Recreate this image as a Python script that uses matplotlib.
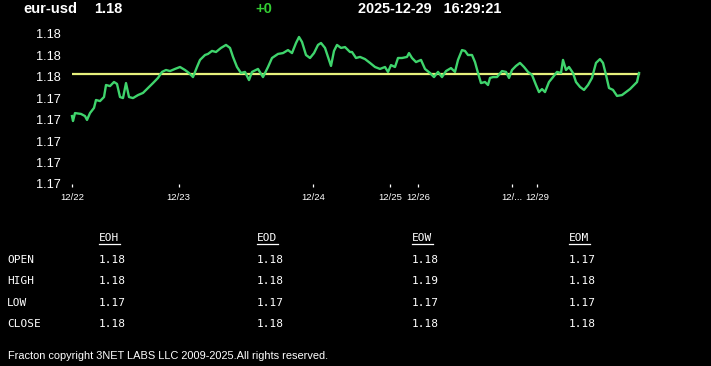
import matplotlib
matplotlib.use("Agg")
import matplotlib.pyplot as plt
from matplotlib.lines import Line2D

# ── data ────────────────────────────────────────────────────────────────────
symbol = "eur-usd"
last_price = "1.18"
change = "+0"
stamp = "2025-12-29   16:29:21"

# sample index (time order) and price
idx = [0, 1, 3, 9, 13, 15, 18, 22, 24, 28, 32, 34, 38, 42, 45, 48, 51, 54, 57,
       61, 66, 71, 76, 81, 86, 90, 94, 98, 103, 108, 113, 117, 121, 125, 128,
       133, 136, 140, 144, 149, 154, 158, 161, 165, 169, 173, 177, 180, 186,
       191, 196, 200, 206, 211, 216, 220, 224, 227, 230, 234, 238, 242, 246,
       249, 253, 256, 259, 262, 265, 269, 273, 278, 280, 284, 288, 293, 298,
       303, 308, 313, 316, 319, 323, 326, 330, 335, 337, 340, 344, 349, 353,
       358, 362, 366, 370, 374, 379, 383, 386, 390, 393, 396, 400, 403, 406,
       409, 413, 416, 418, 421, 425, 430, 434, 437, 440, 444, 448, 452, 456,
       460, 464, 467, 470, 473, 477, 481, 485, 489, 491, 494, 497, 501, 504,
       508, 512, 516, 520, 524, 528, 531, 534, 537, 541, 545, 550, 554, 558,
       562, 565, 567]
price = [1.17417, 1.17394, 1.17431, 1.17427, 1.17417, 1.17399, 1.17431,
         1.17455, 1.17492, 1.17487, 1.17506, 1.17562, 1.17557, 1.17576,
         1.17567, 1.17506, 1.17501, 1.17571, 1.17506, 1.17501, 1.17515,
         1.17525, 1.17548, 1.17571, 1.17595, 1.17623, 1.17632, 1.17627,
         1.17637, 1.17646, 1.17632, 1.17618, 1.17599, 1.17646, 1.17679,
         1.17702, 1.17707, 1.17721, 1.17716, 1.17735, 1.17749, 1.17735,
         1.17693, 1.17646, 1.17618, 1.17623, 1.17585, 1.17623, 1.17637,
         1.17599, 1.17646, 1.17688, 1.17707, 1.17711, 1.17725, 1.17711,
         1.17758, 1.17786, 1.17763, 1.17702, 1.17688, 1.17711, 1.17749,
         1.17758, 1.17735, 1.17693, 1.17651, 1.17721, 1.17749, 1.17735,
         1.17739, 1.17716, 1.17716, 1.17688, 1.17693, 1.17683, 1.17665,
         1.17646, 1.17637, 1.17646, 1.17623, 1.17655, 1.17646, 1.17688,
         1.17688, 1.17693, 1.17711, 1.17688, 1.17669, 1.17679, 1.17637,
         1.17618, 1.17599, 1.17623, 1.17599, 1.17627, 1.17641, 1.17623,
         1.17679, 1.17725, 1.17721, 1.17702, 1.17702, 1.17669, 1.17618,
         1.17571, 1.17576, 1.17562, 1.17595, 1.17599, 1.17599, 1.17627,
         1.17623, 1.17595, 1.17632, 1.17651, 1.17665, 1.17646, 1.17623,
         1.17609, 1.17562, 1.17529, 1.17543, 1.17529, 1.17576, 1.17599,
         1.17623, 1.17618, 1.17679, 1.17632, 1.17646, 1.17618, 1.17576,
         1.17553, 1.17539, 1.17562, 1.17595, 1.17665, 1.17683, 1.17665,
         1.17609, 1.17548, 1.17539, 1.17511, 1.17515, 1.17529, 1.17543,
         1.17562, 1.17576, 1.17618]
ref_level = 1.17611

day_pos = [0, 106.7, 241.3, 318.3, 346.3, 439.7, 465.3]
day_lbl = ["12/22", "12/23", "12/24", "12/25", "12/26", "12/...", "12/29"]
y_ticks = [1.171, 1.172, 1.173, 1.174, 1.175, 1.176, 1.177, 1.178]
y_lbl = ["1.17", "1.17", "1.17", "1.17", "1.17", "1.18", "1.18", "1.18"]

cols = ["EOH", "EOD", "EOW", "EOM"]
rows = ["OPEN", "HIGH", "LOW", "CLOSE"]
eoh = ["1.18", "1.18", "1.17", "1.18"]
eod = ["1.18", "1.18", "1.17", "1.18"]
eow = ["1.18", "1.19", "1.17", "1.18"]
eom = ["1.17", "1.18", "1.17", "1.18"]

# ── style ───────────────────────────────────────────────────────────────────
BG = "black"
FG = "white"
LINE = "#3fd46c"
REF = "#e6f07c"
plt.rcParams["font.family"] = ["Liberation Sans", "DejaVu Sans"]

W, H = 711, 366
fig = plt.figure(figsize=(W / 100, H / 100), dpi=100, facecolor=BG)

def fx(px):
    return px / W

def fy(py):
    return 1 - py / H

# ── price panel ─────────────────────────────────────────────────────────────
ax = fig.add_axes([fx(72), fy(184), fx(628), 150 / H], facecolor=BG)
ax.plot(idx, price, color=LINE, lw=1.7, zorder=3, clip_on=False)
ax.plot([idx[0], idx[-1]], [ref_level, ref_level], color=REF, lw=1.6, zorder=2)
ax.set_xlim(0, 628)
ax.set_ylim(y_ticks[0], y_ticks[-1])
ax.set_yticks(y_ticks)
ax.set_yticklabels(y_lbl)
ax.set_xticks(day_pos)
ax.set_xticklabels(day_lbl, fontsize=6.8)
ax.tick_params(axis="y", length=0, pad=8, labelsize=9.2, colors=FG)
ax.tick_params(axis="x", length=2.5, width=0.9, pad=4, colors=FG, direction="out")
for s in ax.spines.values():
    s.set_visible(False)

# ── header ──────────────────────────────────────────────────────────────────
fig.text(fx(23), fy(9), symbol, color=FG, fontsize=10.5, fontweight="bold", va="center")
fig.text(fx(94), fy(9), last_price, color=FG, fontsize=10.5, fontweight="bold", va="center")
fig.text(fx(255), fy(9), change, color="#33cc33", fontsize=10.5, fontweight="bold", va="center")
fig.text(fx(358), fy(9), stamp, color=FG, fontsize=10.4, fontweight="bold", va="center")

# ── summary table ───────────────────────────────────────────────────────────
mono = dict(family="DejaVu Sans Mono", fontsize=8, color=FG, va="center")
col_x = [99, 257, 412, 569]
row_y = [260, 281, 303, 324]
for cx, name, vals in zip(col_x, cols, [eoh, eod, eow, eom]):
    fig.text(fx(cx), fy(238), name, **mono)
    fig.add_artist(Line2D([fx(cx), fx(cx + 21)], [fy(244), fy(244)], color=FG, lw=0.9))
    for ry, v in zip(row_y, vals):
        fig.text(fx(cx), fy(ry), v, **mono)
for ry, r in zip(row_y, rows):
    fig.text(fx(7), fy(ry), r, **mono)

fig.text(fx(8), fy(356), "Fracton copyright 3NET LABS LLC 2009-2025.All rights reserved.",
         color=FG, fontsize=7.9, va="center")

fig.savefig("out.png", dpi=100, facecolor=BG)
